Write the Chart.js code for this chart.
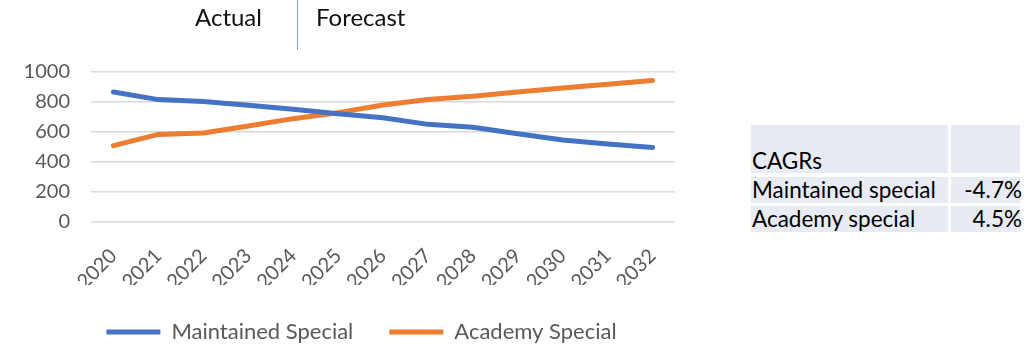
<!DOCTYPE html>
<html>
<head>
<meta charset="utf-8">
<script src="https://cdn.jsdelivr.net/npm/chart.js@4"></script>
<style>
  body { margin: 0; background: #fff; font-family: Lato, "Open Sans", sans-serif; }
  #wrap { position: relative; width: 1029px; height: 346px; overflow: hidden; }
  #grafico { position: absolute; left: 0; top: 0; }
  .nota { position: absolute; top: 5px; font-size: 24px; line-height: 24px; color: #111; white-space: nowrap; }
  #divisor { position: absolute; left: 297px; top: 0; width: 1px; height: 50px; background: #7f9fdc; }
  .celda { position: absolute; background: #e8eaf4; }
  .texto { position: absolute; font-size: 22.5px; line-height: 22.5px; color: #000; white-space: nowrap; }
</style>
</head>
<body>
<div id="wrap">
  <canvas id="grafico" width="712" height="353"></canvas>
  <div class="nota" style="left:195px">Actual</div>
  <div id="divisor"></div>
  <div class="nota" style="left:316px">Forecast</div>
  <div id="tabla"></div>
</div>
<script>
// datos
const years = ["2020","2021","2022","2023","2024","2025","2026","2027","2028","2029","2030","2031","2032"];
const maintained = [867, 816, 804, 778, 751, 722, 695, 651, 631, 589, 547, 520, 496];
const academy = [509, 584, 593, 640, 689, 729, 780, 816, 838, 867, 893, 918, 944];

// tabla de CAGRs
const cagrTitle = "CAGRs";
const cagrLabels = ["Maintained special", "Academy special"];
const cagrValues = ["-4.7%", "4.5%"];

const gris = "#595959";
const fuente = { family: "Lato, 'Open Sans', sans-serif", size: 20 };

// corre la leyenda un poco a la derecha, como en el original
const moverLeyenda = {
  id: "moverLeyenda",
  afterLayout(chart) {
    chart.legend.left += 24;
    chart.legend.right += 24;
  }
};

const grafico = new Chart(
  document.querySelector("#grafico"),
  {
    type: "line",
    data: {
      labels: years,
      datasets: [
        {
          label: "Maintained Special",
          data: maintained,
          borderColor: "#4472c4",
          backgroundColor: "#4472c4",
        },
        {
          label: "Academy Special",
          data: academy,
          borderColor: "#ed7d31",
          backgroundColor: "#ed7d31",
        }
      ]
    },
    options: {
      responsive: false,
      animation: false,
      devicePixelRatio: 1,
      layout: { padding: { top: 72, right: 37, left: 0, bottom: 0 } },
      elements: {
        line: { borderWidth: 5, tension: 0, borderCapStyle: "round", borderJoinStyle: "round" },
        point: { radius: 0, hoverRadius: 0, borderWidth: 5 }
      },
      scales: {
        x: {
          offset: true,
          grid: { display: false },
          border: { display: false },
          ticks: { minRotation: 45, maxRotation: 45, font: fuente, color: gris, padding: 14 },
          afterFit: (s) => { s.height = 63; }
        },
        y: {
          min: 0,
          max: 1000,
          grid: { color: "#d9d9d9", lineWidth: 1.5, drawTicks: false },
          border: { display: false },
          ticks: { stepSize: 200, font: fuente, color: gris, padding: 21, callback: (v) => String(v) },
          afterFit: (s) => { s.width = 91; }
        }
      },
      plugins: {
        tooltip: { enabled: false },
        legend: {
          position: "bottom",
          labels: {
            usePointStyle: true,
            pointStyle: "line",
            pointStyleWidth: 54,
            font: { family: fuente.family, size: 22 },
            color: gris,
            padding: 36
          }
        }
      }
    },
    plugins: [moverLeyenda]
  }
);

// arma la tabla a la derecha
const tabla = document.querySelector("#tabla");
const agregar = (clase, css, txt) => {
  const d = document.createElement("div");
  d.className = clase;
  d.style.cssText = css;
  d.textContent = txt || "";
  tabla.appendChild(d);
};
const filas = [[125, 48], [177, 26], [206, 26]];
filas.forEach(([y, h]) => {
  agregar("celda", `left:751px;top:${y}px;width:197px;height:${h}px;`);
  agregar("celda", `left:951px;top:${y}px;width:69px;height:${h}px;`);
});
agregar("texto", "left:752px;top:150px;", cagrTitle);
cagrLabels.forEach((lab, i) => {
  const y = 179 + i * 29;
  agregar("texto", `left:752px;top:${y}px;`, lab);
  agregar("texto", `left:930px;top:${y}px;width:92px;text-align:right;`, cagrValues[i]);
});
</script>
</body>
</html>
